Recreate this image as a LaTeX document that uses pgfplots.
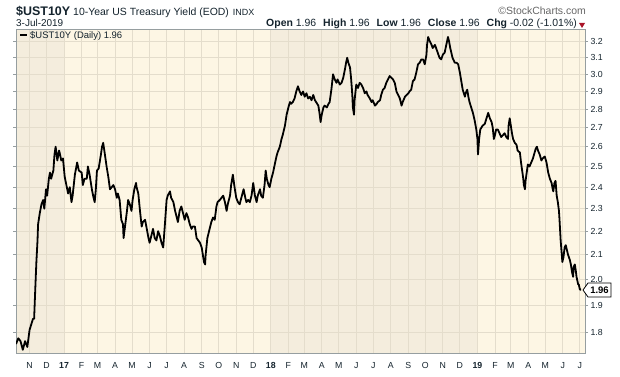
\documentclass[border=0pt]{standalone}
\usepackage{pgfplots}
\usepackage{pgfplotstable}
\pgfplotsset{compat=1.18}
\usepackage{fontspec}
\setmainfont{Liberation Sans}
\definecolor{bgA}{RGB}{253,246,228}
\definecolor{bgB}{RGB}{244,237,221}
\definecolor{gridc}{RGB}{228,221,204}
\definecolor{framec}{RGB}{150,158,160}
\definecolor{txt}{RGB}{20,35,45}
\definecolor{redtri}{RGB}{170,20,40}
% d = days since 1 Jan 2017, v = yield (%)
\pgfplotstableread{
d v
-85 1.76
-81 1.78
-77 1.77
-73 1.74
-69 1.77
-65 1.75
-61 1.81
-58 1.83
-55 1.85
-53 1.85
-51 1.96
-49 2.07
-47 2.16
-46 2.23
-43 2.28
-40 2.32
-37 2.34
-35 2.30
-32 2.39
-30 2.36
-27 2.44
-25 2.47
-23 2.44
-19 2.48
-17 2.56
-15 2.60
-12 2.53
-9 2.58
-8 2.57
-5 2.53
-2 2.54
1 2.45
4 2.41
7 2.37
10 2.40
13 2.33
15 2.36
19 2.46
23 2.52
26 2.48
31 2.47
33 2.41
36 2.44
40 2.44
42 2.50
45 2.46
49 2.39
52 2.35
54 2.33
56 2.39
58 2.48
61 2.49
65 2.56
67 2.60
69 2.62
72 2.56
75 2.50
78 2.45
81 2.39
84 2.40
87 2.41
90 2.39
93 2.35
95 2.37
98 2.34
101 2.25
104 2.23
105 2.17
108 2.23
111 2.29
113 2.34
116 2.32
119 2.29
121 2.34
124 2.39
127 2.42
128 2.40
131 2.37
134 2.29
137 2.22
139 2.24
143 2.25
146 2.21
149 2.17
151 2.15
154 2.18
157 2.21
160 2.17
163 2.16
166 2.20
169 2.18
172 2.15
175 2.13
178 2.23
181 2.34
183 2.36
187 2.38
189 2.35
193 2.33
196 2.29
198 2.27
201 2.24
204 2.29
207 2.31
210 2.28
213 2.25
216 2.28
219 2.26
222 2.23
225 2.21
227 2.22
231 2.22
234 2.17
237 2.16
240 2.15
243 2.13
245 2.10
247 2.07
249 2.06
250 2.10
253 2.17
255 2.19
257 2.21
260 2.24
263 2.26
266 2.25
269 2.31
271 2.33
275 2.34
278 2.35
281 2.36
284 2.33
287 2.29
289 2.32
293 2.36
295 2.41
298 2.46
301 2.40
304 2.35
307 2.33
310 2.32
314 2.36
317 2.39
320 2.35
322 2.33
325 2.34
328 2.33
331 2.36
334 2.42
337 2.36
340 2.33
342 2.36
346 2.39
348 2.36
351 2.35
354 2.41
356 2.48
358 2.44
361 2.41
363 2.40
366 2.44
369 2.47
372 2.51
375 2.55
377 2.57
381 2.60
384 2.64
386 2.66
390 2.71
393 2.77
397 2.82
399 2.84
401 2.83
404 2.84
407 2.86
410 2.90
413 2.93
416 2.90
419 2.88
422 2.90
425 2.87
428 2.89
431 2.86
434 2.87
437 2.85
440 2.88
443 2.85
445 2.84
449 2.82
451 2.78
453 2.73
455 2.77
458 2.81
460 2.82
464 2.81
467 2.83
469 2.84
472 2.91
475 3.00
478 2.97
481 2.95
483 2.97
487 2.94
490 2.95
493 2.98
496 3.03
498 3.07
500 3.10
502 3.07
505 3.04
507 2.97
509 2.88
510 2.81
512 2.77
513 2.85
516 2.94
519 2.92
522 2.95
525 2.94
528 2.92
531 2.89
534 2.90
536 2.88
540 2.86
543 2.84
545 2.85
549 2.82
552 2.83
554 2.84
558 2.85
560 2.88
563 2.91
566 2.92
569 2.95
572 2.97
575 2.99
578 2.98
581 2.97
584 2.95
587 2.90
590 2.88
593 2.86
596 2.82
598 2.84
602 2.87
605 2.88
608 2.89
610 2.90
613 2.91
616 2.96
619 2.97
622 3.01
625 3.06
628 3.07
631 3.09
634 3.09
637 3.06
640 3.12
641 3.18
643 3.23
645 3.21
649 3.18
651 3.16
655 3.18
657 3.16
660 3.13
663 3.10
666 3.09
669 3.12
672 3.13
675 3.18
678 3.23
680 3.20
682 3.16
684 3.13
686 3.10
690 3.07
693 3.07
696 3.06
699 3.01
702 2.95
704 2.91
708 2.87
709 2.89
712 2.91
714 2.87
716 2.84
719 2.81
722 2.78
725 2.74
728 2.69
730 2.64
731 2.56
733 2.64
735 2.69
737 2.70
739 2.71
743 2.72
746 2.75
749 2.78
752 2.75
755 2.73
757 2.70
759 2.64
761 2.66
763 2.69
766 2.69
769 2.67
772 2.65
775 2.66
778 2.67
781 2.65
784 2.64
785 2.71
787 2.75
789 2.71
791 2.67
793 2.64
796 2.62
799 2.61
801 2.58
805 2.57
807 2.52
811 2.44
812 2.41
814 2.39
815 2.43
817 2.47
819 2.51
822 2.50
825 2.52
828 2.54
831 2.57
833 2.59
835 2.60
837 2.58
840 2.56
843 2.53
845 2.54
849 2.55
852 2.52
855 2.47
858 2.44
861 2.42
863 2.39
864 2.38
866 2.42
868 2.43
870 2.36
872 2.33
874 2.29
875 2.25
877 2.16
879 2.10
880 2.07
882 2.09
884 2.13
886 2.14
888 2.12
890 2.10
893 2.08
895 2.06
897 2.03
899 2.01
900 2.05
902 2.06
904 2.03
905 2.01
906 2.00
908 1.98
909 1.98
911 1.96
913 1.96
}\ust

\begin{document}
\begin{tikzpicture}[x=1bp,y=1bp]
\begin{axis}[
  set layers,
  at={(16bp,23bp)}, anchor=south west,
  scale only axis, width=569bp, height=323bp,
  xmin=-85, xmax=920,
  ymode=log, ymin=1.729, ymax=3.275,
  xtick={-61,-31,0,31,59,90,120,151,181,212,243,273,304,334,365,396,424,455,485,516,546,577,608,638,669,699,730,761,789,820,850,881,911},
  xticklabels={N,D,\textbf{17},F,M,A,M,J,J,A,S,O,N,D,\textbf{18},F,M,A,M,J,J,A,S,O,N,D,\textbf{19},F,M,A,M,J,J},
  ytick={1.8,1.9,2.0,2.1,2.2,2.3,2.4,2.5,2.6,2.7,2.8,2.9,3.0,3.1,3.2},
  yticklabels={1.8,1.9,2.0,2.1,2.2,2.3,2.4,2.5,2.6,2.7,2.8,2.9,3.0,3.1,3.2},
  yticklabel pos=right,
  grid=major,
  major grid style={gridc, line width=0.9bp},
  axis line style={framec, line width=1bp},
  tick align=outside,
  xtick style={draw=none},
  ytick style={framec, line width=0.7bp},
  major tick length=3bp,
  ticklabel style={font=\fontsize{8.8}{10}\selectfont, text=txt},
  xticklabel style={yshift=-3bp},
  yticklabel style={xshift=-1bp},
]
\begin{pgfonlayer}{axis background}
\fill[bgB] (axis cs:-85,1.729) rectangle (axis cs:0,3.275);
\fill[bgA] (axis cs:0,1.729) rectangle (axis cs:365,3.275);
\fill[bgB] (axis cs:365,1.729) rectangle (axis cs:730,3.275);
\fill[bgA] (axis cs:730,1.729) rectangle (axis cs:920,3.275);
\end{pgfonlayer}
\addplot[black, line width=1.8bp, line join=round] table[x=d, y=v] {\ust};
\end{axis}
% header
\node[anchor=base west, inner sep=0, text=txt] at (16,361)
  {{\fontsize{12.5}{14}\selectfont\bfseries \$UST10Y}\hspace{3bp}{\fontsize{10.5}{12}\selectfont 10-Year US Treasury Yield (EOD)}\hspace{4bp}{\fontsize{9}{10}\selectfont INDX}};
\node[anchor=base east, inner sep=0, text=black!60] at (586,362)
  {\fontsize{10.5}{12}\selectfont ©StockCharts.com};
\node[anchor=base west, inner sep=0, text=txt] at (16,350)
  {\fontsize{10}{12}\selectfont 3-Jul-2019};
\node[anchor=base east, inner sep=0, text=txt] at (577,350)
  {\fontsize{10.5}{12}\selectfont \textbf{Open} 1.96\hspace{7bp}\textbf{High} 1.96\hspace{7bp}\textbf{Low} 1.96\hspace{7bp}\textbf{Close} 1.96\hspace{7bp}\textbf{Chg} -0.02 (-1.01\%)};
\fill[redtri] (579,353) -- (585,353) -- (582,348) -- cycle;
% legend
\draw[black, line width=2bp] (20,341) -- (27,341);
\node[anchor=base west, inner sep=0, text=txt] at (30,337.5)
  {\fontsize{9.5}{11}\selectfont \$UST10Y (Daily) 1.96};
% last value marker
\draw[black, line width=0.8bp, fill=white] (583,86) -- (588,93) -- (611,93) -- (611,79) -- (588,79) -- cycle;
\node[text=black, inner sep=0] at (599.5,86) {\fontsize{9.5}{11}\selectfont\bfseries 1.96};
\path (0,0) rectangle (620,376);
\end{tikzpicture}
\end{document}
